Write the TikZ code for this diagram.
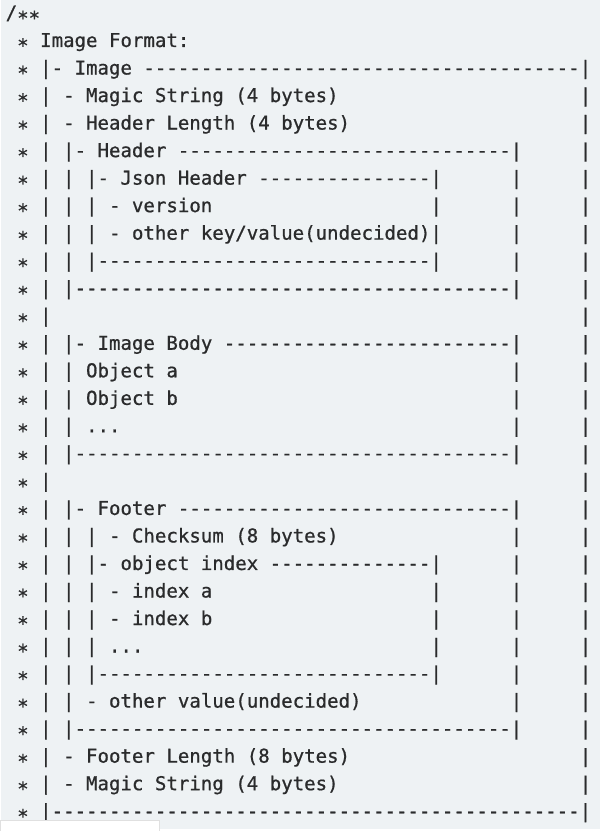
\documentclass[tikz,border=0pt]{standalone}
\usepackage{xcolor}
\usepackage{fontspec}
\setmonofont{DejaVu Sans Mono}[FakeBold=0.8]
\usepackage{tikz}

\definecolor{paper}{HTML}{EEF2F4}
\definecolor{ink}{HTML}{2A2B2C}

% blanks and dash runs, counted in characters
\newcommand\sk[1]{\kern#1\fontcharwd\font`x\relax}
\ExplSyntaxOn
\NewDocumentCommand\ds{m}{\prg_replicate:nn{#1}{-}}
\ExplSyntaxOff
\newcommand\etc{...}
% stars sit on the bar's middle, as in the editor font
\newcommand\lo[1]{\raisebox{-.28em}{#1}}
\newcommand\gut{\sk1\lo{*}}

\begin{document}
\begin{tikzpicture}[
  x=0.03cm, y=-0.03cm,
  row/.style={anchor=base west, inner sep=0pt, text=ink,
    font=\ttfamily\frenchspacing\fontsize{16.32pt}{16.32pt}\selectfont},
  tab/.style={fill=white, draw=black!12, line width=0.4pt}
]

% Background
\path[fill=paper] (0,0) rectangle (600,831);

% Comment lines
\foreach \txt [count=\i from 0] in {
  {/\lo{**}},
  {\gut{} Image Format:},
  {\gut{} |- Image \ds{38}|},
  {\gut{} | - Magic String (4 bytes)\sk{21}|},
  {\gut{} | - Header Length (4 bytes)\sk{20}|},
  {\gut{} | |- Header \ds{29}|\sk5|},
  {\gut{} | | |- Json Header \ds{15}|\sk6|\sk5|},
  {\gut{} | | | - version\sk{19}|\sk6|\sk5|},
  {\gut{} | | | - other key/value(undecided)|\sk6|\sk5|},
  {\gut{} | | |\ds{29}|\sk6|\sk5|},
  {\gut{} | |\ds{38}|\sk5|},
  {\gut{} |\sk{46}|},
  {\gut{} | |- Image Body \ds{25}|\sk5|},
  {\gut{} | | Object a\sk{29}|\sk5|},
  {\gut{} | | Object b\sk{29}|\sk5|},
  {\gut{} | | \etc\sk{34}|\sk5|},
  {\gut{} | |\ds{38}|\sk5|},
  {\gut{} |\sk{46}|},
  {\gut{} | |- Footer \ds{29}|\sk5|},
  {\gut{} | | | - Checksum (8 bytes)\sk{15}|\sk5|},
  {\gut{} | | |- object index \ds{14}|\sk6|\sk5|},
  {\gut{} | | | - index a\sk{19}|\sk6|\sk5|},
  {\gut{} | | | - index b\sk{19}|\sk6|\sk5|},
  {\gut{} | | | \etc\sk{25}|\sk6|\sk5|},
  {\gut{} | | |\ds{29}|\sk6|\sk5|},
  {\gut{} | | - other value(undecided)\sk{13}|\sk5|},
  {\gut{} | |\ds{38}|\sk5|},
  {\gut{} | - Footer Length (8 bytes)\sk{20}|},
  {\gut{} | - Magic String (4 bytes)\sk{21}|},
  {\gut{} |\ds{46}|}
}
  \node[row] (r\i) at (4.25, 19.5+27.6*\i) {\txt};

% Tab strip at the bottom edge
\path[tab] (-1,822) rectangle (158,833);

\end{tikzpicture}
\end{document}
